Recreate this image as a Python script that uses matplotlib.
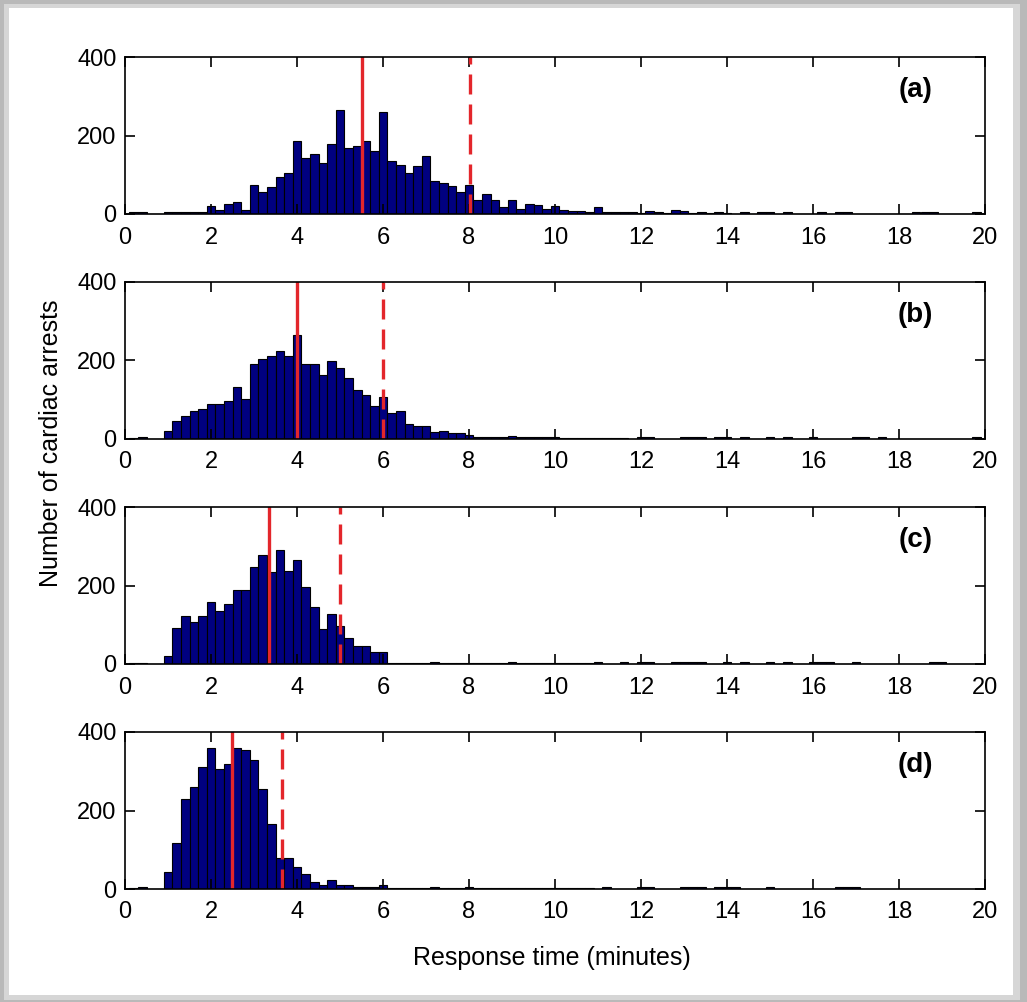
import numpy as np
import matplotlib
matplotlib.use("Agg")
import matplotlib.pyplot as plt
from matplotlib.patches import Rectangle

plt.rcParams['font.family'] = ['Liberation Sans', 'DejaVu Sans']

# bin counts, 0.2 min wide bins starting at 0.1 min
counts_a = [4, 6, 0, 0, 5, 5, 4, 5, 5, 20,
            11, 25, 31, 11, 74, 55, 69, 93, 105, 185,
            143, 154, 129, 179, 265, 167, 173, 185, 160, 259,
            136, 124, 105, 122, 149, 84, 80, 72, 55, 74,
            36, 50, 36, 19, 36, 13, 25, 24, 14, 21,
            11, 8, 8, 4, 18, 4, 4, 4, 4, 3,
            7, 6, 3, 9, 8, 3, 4, 3, 5, 3,
            0, 5, 0, 5, 5, 0, 5, 0, 0, 0,
            5, 0, 5, 5, 0, 0, 0, 0, 0, 0,
            0, 5, 5, 5, 0, 0, 0, 0, 5]
counts_b = [3, 6, 0, 0, 21, 46, 59, 71, 77, 90,
            90, 96, 132, 101, 192, 205, 212, 224, 212, 266,
            192, 192, 163, 199, 181, 155, 125, 113, 83, 107,
            65, 71, 39, 34, 34, 17, 21, 15, 15, 10,
            6, 5, 5, 4, 8, 4, 4, 4, 4, 5,
            3, 3, 3, 3, 3, 3, 3, 3, 0, 5,
            4, 0, 0, 0, 4, 4, 4, 0, 5, 4,
            0, 4, 0, 0, 4, 0, 4, 0, 0, 5,
            0, 0, 0, 0, 4, 4, 0, 4, 0, 0,
            0, 0, 0, 0, 0, 0, 0, 0, 4]
counts_c = [2, 3, 0, 0, 21, 91, 122, 108, 122, 159,
            134, 153, 189, 189, 247, 278, 234, 291, 238, 266,
            197, 146, 89, 128, 96, 66, 47, 47, 30, 30,
            2, 2, 2, 2, 2, 6, 2, 2, 2, 2,
            2, 2, 2, 2, 6, 2, 2, 2, 2, 3,
            3, 3, 3, 3, 4, 0, 0, 4, 0, 5,
            5, 0, 0, 4, 4, 4, 4, 0, 0, 5,
            0, 4, 0, 0, 4, 0, 4, 0, 0, 5,
            4, 4, 0, 0, 4, 0, 0, 0, 0, 0,
            0, 0, 0, 4, 4, 0, 0, 0, 0]
counts_d = [3, 4, 0, 0, 43, 117, 230, 260, 311, 360,
            305, 318, 359, 353, 329, 254, 166, 79, 79, 55,
            37, 17, 11, 23, 11, 11, 4, 4, 4, 10,
            3, 3, 3, 3, 3, 5, 3, 3, 3, 6,
            3, 3, 3, 3, 3, 3, 3, 3, 3, 3,
            3, 3, 3, 3, 0, 4, 0, 0, 0, 5,
            5, 0, 0, 0, 4, 4, 4, 0, 5, 5,
            5, 0, 0, 0, 4, 0, 0, 0, 0, 0,
            0, 0, 4, 4, 4, 0, 0, 0, 0, 0,
            0, 0, 0, 0, 0, 0, 0, 0, 0]

# mean (solid) and 90th percentile (dashed) response times
median_t = [5.52, 4.0, 3.36, 2.49]
p90_t = [8.02, 6.0, 5.0, 3.64]
panel_labels = ['(a)', '(b)', '(c)', '(d)']

bin_w = 0.2
centers = 0.2 + bin_w * np.arange(len(counts_a))

W, H = 1027, 1002
fig = plt.figure(figsize=(W / 100, H / 100), dpi=100, facecolor='#b9b9b9')

# frame round the plot
fig.patches.append(Rectangle((4 / W, 2 / H), 1016 / W, 996 / H, transform=fig.transFigure,
                             facecolor='#d6d6d6', edgecolor='none', zorder=-3))
fig.patches.append(Rectangle((9 / W, 7 / H), 1004 / W, 987 / H, transform=fig.transFigure,
                             facecolor='white', edgecolor='none', zorder=-2))

left, width, height = 125 / W, 860 / W, 157 / H
tops = [57, 282, 507, 732]

for i, counts in enumerate([counts_a, counts_b, counts_c, counts_d]):
    ax = fig.add_axes([left, 1 - (tops[i] + 157) / H, width, height])
    ax.bar(centers, counts, width=bin_w, color='#000080', edgecolor='black', linewidth=0.8)
    ax.axvline(median_t[i], color='#e3262b', lw=2.4)
    ax.axvline(p90_t[i], color='#e3262b', lw=2.4, dashes=(6, 3))
    ax.set_xlim(0, 20)
    ax.set_ylim(0, 400)
    ax.set_xticks(range(0, 21, 2))
    ax.set_yticks([0, 200, 400])
    ax.tick_params(direction='in', length=7, width=1.2, top=True, right=True,
                   labelsize=17, pad=6)
    ax.tick_params(axis='x', pad=9)
    for s in ax.spines.values():
        s.set_linewidth(1.2)
    ax.text(0.919, 0.79, panel_labels[i], transform=ax.transAxes, fontsize=20,
            fontweight='bold', ha='center', va='center')

fig.text(51 / W, 1 - 443 / H, 'Number of cardiac arrests', rotation=90,
         fontsize=18, ha='center', va='center')
fig.text(552 / W, 1 - 958 / H, 'Response time (minutes)', fontsize=18,
         ha='center', va='center')

fig.savefig('out.png', dpi=100, facecolor=fig.get_facecolor())
